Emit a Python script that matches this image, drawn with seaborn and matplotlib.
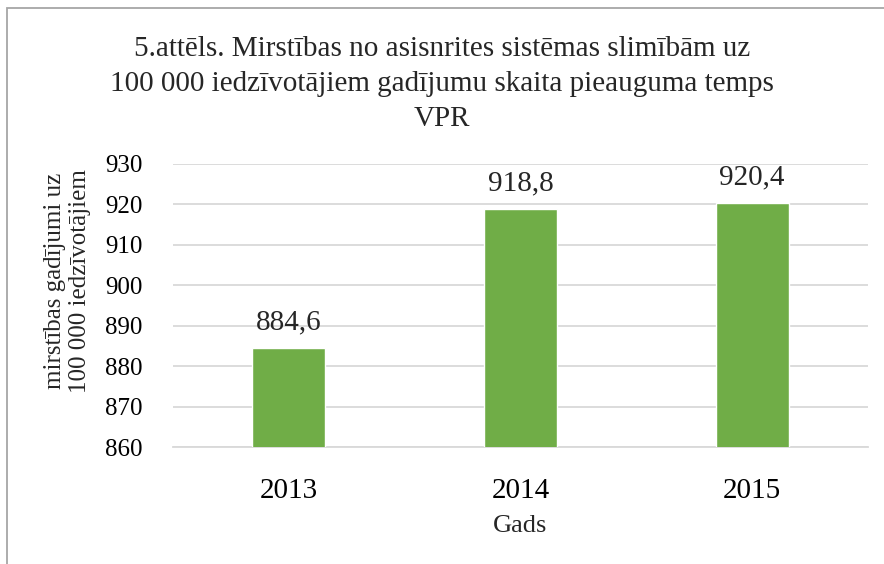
import matplotlib
matplotlib.use("Agg")
import matplotlib.pyplot as plt
import seaborn as sns
import pandas as pd
from matplotlib.patches import Rectangle

years = ["2013", "2014", "2015"]
values = [884.6, 918.8, 920.4]
yticks = [860, 870, 880, 890, 900, 910, 920, 930]
title = "5.attēls. Mirstības no asisnrites sistēmas slimībām uz\n100 000 iedzīvotājiem gadījumu skaita pieauguma temps\nVPR"
ylabel = "mirstības gadījumi uz\n100 000 iedzīvotājiem"
xlabel = "Gads"

sns.set_theme(style="white")
plt.rcParams['font.family'] = ['Liberation Serif', 'DejaVu Serif']

df = pd.DataFrame({"Gads": years, "val": values})

fig = plt.figure(figsize=(8.84, 5.64), dpi=100)
ax = fig.add_axes([173/884, 1-447/564, 695/884, (447-164)/564])
sns.barplot(data=df, x="Gads", y="val", color="#70AD47", width=0.315,
            saturation=1, ax=ax, zorder=3)
ax.set_ylim(860, 930)
ax.set_yticks(yticks)
ax.set_xlim(-0.5, 2.5)
ax.grid(axis="y", color="#D9D9D9", linewidth=1.3, zorder=0)
ax.set_axisbelow(True)
for s in ["top", "right", "left"]:
    ax.spines[s].set_visible(False)
ax.spines["bottom"].set_color("#D9D9D9")
ax.spines["bottom"].set_linewidth(1.3)
ax.tick_params(axis="both", length=0, colors="black")
ax.tick_params(axis="x", labelsize=21, pad=22)
ax.tick_params(axis="y", labelsize=18, pad=22)
for c in ax.containers:
    ax.bar_label(c, labels=[f"{v:.1f}".replace(".", ",") for v in c.datavalues],
                 fontsize=21, padding=9)
ax.set_xlabel(xlabel, fontsize=19, labelpad=8)
ax.set_ylabel(ylabel, fontsize=18, linespacing=1.15)
ax.yaxis.set_label_coords(-0.118, (447-281)/283)
fig.text(0.5, 1-36/564, title, ha="center", va="top", fontsize=21,
         linespacing=1.45, transform=fig.transFigure)

fig.patches.append(Rectangle((7.5/884, -0.1), 1.2, 1.1-8.5/564,
                             transform=fig.transFigure, fill=False,
                             edgecolor="#A6A6A6", linewidth=1.3))
fig.savefig("out.png", dpi=100)
